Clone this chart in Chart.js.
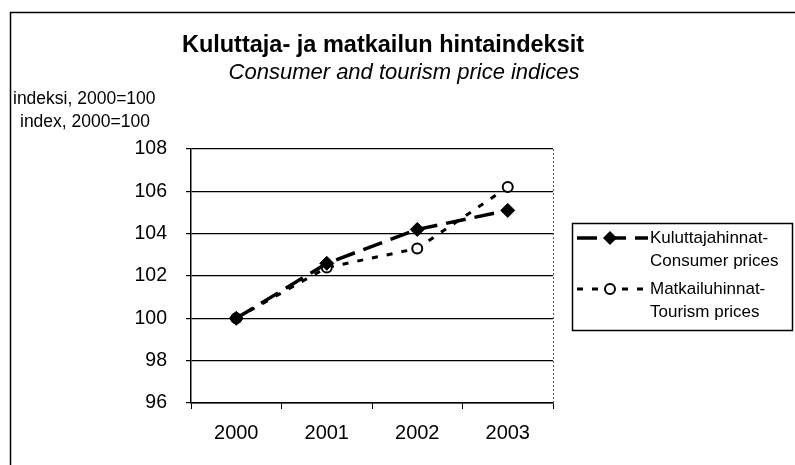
<!DOCTYPE html>
<html>
<head>
<meta charset="utf-8">
<script src="https://cdn.jsdelivr.net/npm/chart.js@4.4.0/dist/chart.umd.min.js"></script>
<style>
  html, body { margin: 0; padding: 0; background: #fff; }
  #wrap { width: 795px; height: 465px; position: relative; }
</style>
</head>
<body>
<div id="wrap"><canvas id="myChart" width="795" height="465"></canvas></div>
<script>
const years = ['2000', '2001', '2002', '2003'];
const consumerPrices = [100, 102.6, 104.2, 105.1];
const tourismPrices = [100, 102.4, 103.3, 106.2];
const yTicks = [96, 98, 100, 102, 104, 106, 108];

const FONT = '"Liberation Sans", Arial, sans-serif';

// titles, axis caption, outer frame and legend
const decorations = {
    id: 'decorations',
    afterDraw(chart) {
        const ctx = chart.ctx;
        const area = chart.chartArea;
        ctx.save();

        // outer frame
        ctx.strokeStyle = '#000';
        ctx.lineWidth = 1.5;
        ctx.strokeRect(10.5, 12.5, 790, 460);

        ctx.fillStyle = '#000';
        ctx.textAlign = 'center';
        ctx.textBaseline = 'middle';
        ctx.font = 'bold 23.5px ' + FONT;
        ctx.fillText('Kuluttaja- ja matkailun hintaindeksit', 383, 46);
        ctx.font = 'italic 22px ' + FONT;
        ctx.fillText('Consumer and tourism price indices', 404, 73);

        ctx.textAlign = 'left';
        ctx.font = '17.5px ' + FONT;
        ctx.fillText('indeksi, 2000=100', 13, 99);
        ctx.fillText('index, 2000=100', 20, 122);

        // dotted right edge of the plot area
        ctx.strokeStyle = '#555';
        ctx.lineWidth = 1;
        ctx.setLineDash([2, 2]);
        ctx.beginPath();
        ctx.moveTo(area.right + 0.5, area.top);
        ctx.lineTo(area.right + 0.5, area.bottom);
        ctx.stroke();
        ctx.setLineDash([]);

        // legend
        const lx = 572, ly = 223, lw = 220, lh = 107;
        ctx.strokeStyle = '#000';
        ctx.lineWidth = 1.5;
        ctx.strokeRect(lx + 0.5, ly + 0.5, lw, lh);

        const sets = chart.data.datasets;
        const rows = [
            { ds: sets[0], y: 238, lines: ['Kuluttajahinnat-', 'Consumer prices'] },
            { ds: sets[1], y: 289, lines: ['Matkailuhinnat-', 'Tourism prices'] }
        ];
        rows.forEach(r => {
            ctx.strokeStyle = '#000';
            ctx.lineWidth = r.ds.borderWidth;
            ctx.setLineDash(r.ds.borderDash);
            ctx.beginPath();
            ctx.moveTo(577, r.y);
            ctx.lineTo(648, r.y);
            ctx.stroke();
            ctx.setLineDash([]);
            const mx = 610;
            if (r.ds.pointStyle === 'rectRot') {
                const s = 7;
                ctx.fillStyle = '#000';
                ctx.beginPath();
                ctx.moveTo(mx, r.y - s);
                ctx.lineTo(mx + s, r.y);
                ctx.lineTo(mx, r.y + s);
                ctx.lineTo(mx - s, r.y);
                ctx.closePath();
                ctx.fill();
            } else {
                ctx.fillStyle = '#fff';
                ctx.lineWidth = 2;
                ctx.beginPath();
                ctx.arc(mx, r.y, 5, 0, Math.PI * 2);
                ctx.fill();
                ctx.stroke();
            }
            ctx.fillStyle = '#000';
            ctx.font = '17px ' + FONT;
            ctx.textAlign = 'left';
            ctx.fillText(r.lines[0], 650, r.y);
            ctx.fillText(r.lines[1], 650, r.y + 23);
        });

        ctx.restore();
    }
};

const ctx = document.getElementById('myChart').getContext('2d');
const chart = new Chart(ctx, {
    type: 'line',
    data: {
        labels: years,
        datasets: [
            {
                label: 'Kuluttajahinnat-Consumer prices',
                data: consumerPrices,
                borderColor: '#000',
                backgroundColor: '#000',
                borderWidth: 3.5,
                borderDash: [20, 9],
                pointStyle: 'rectRot',
                pointRadius: 7,
                pointBackgroundColor: '#000',
                pointBorderColor: '#000',
                pointBorderWidth: 1,
                tension: 0
            },
            {
                label: 'Matkailuhinnat-Tourism prices',
                data: tourismPrices,
                borderColor: '#000',
                backgroundColor: '#fff',
                borderWidth: 3,
                borderDash: [6, 9],
                pointStyle: 'circle',
                pointRadius: 5,
                pointBackgroundColor: '#fff',
                pointBorderColor: '#000',
                pointBorderWidth: 2,
                tension: 0
            }
        ]
    },
    options: {
        responsive: false,
        animation: false,
        layout: {
            padding: { top: 149, right: 242, left: 0, bottom: 0 }
        },
        plugins: {
            legend: { display: false },
            title: { display: false },
            tooltip: { enabled: false }
        },
        scales: {
            x: {
                offset: true,
                afterFit(scale) { scale.height = 62; },
                grid: {
                    offset: true,
                    drawOnChartArea: false,
                    color: '#000',
                    tickLength: 6
                },
                border: { color: '#000', width: 1.5 },
                ticks: {
                    color: '#000',
                    padding: 12,
                    font: { family: FONT, size: 20 }
                }
            },
            y: {
                min: 96,
                max: 108,
                afterFit(scale) { scale.width = 191; },
                afterBuildTicks(scale) {
                    scale.ticks = yTicks.map(v => ({ value: v }));
                },
                grid: {
                    color: '#000',
                    lineWidth: 1.2,
                    tickLength: 5
                },
                border: { color: '#000', width: 1.5 },
                ticks: {
                    color: '#000',
                    padding: 19,
                    font: { family: FONT, size: 19.5 }
                }
            }
        }
    },
    plugins: [decorations]
});
</script>
</body>
</html>
